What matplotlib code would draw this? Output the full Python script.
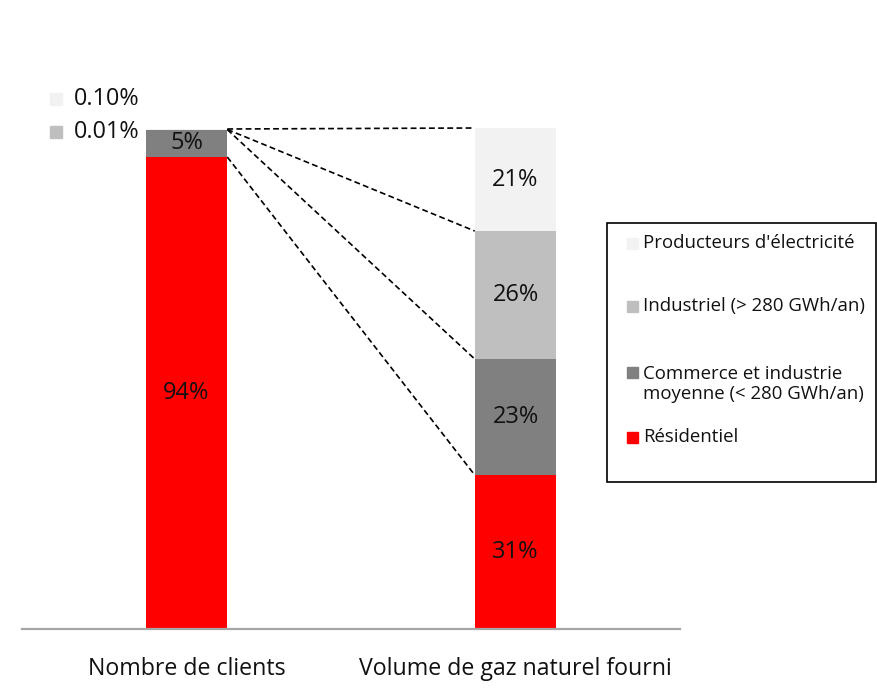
import matplotlib
matplotlib.use("Agg")
import matplotlib.pyplot as plt
from matplotlib.patches import Rectangle

plt.rcParams['font.family'] = ['Open Sans', 'DejaVu Sans']

categories = ["Nombre de clients", "Volume de gaz naturel fourni"]
series = ["Résidentiel", "Commerce et industrie\nmoyenne (< 280 GWh/an)",
          "Industriel (> 280 GWh/an)", "Producteurs d'électricité"]
colors = ["#FF0000", "#808080", "#BFBFBF", "#F2F2F2"]
clients = [94.4, 5.49, 0.01, 0.10]
volume = [30.8, 23.2, 25.6, 20.6]

W, H = 877, 692
fig = plt.figure(figsize=(W / 100, H / 100), dpi=100)

def fx(px):
    return px / W

def fy(py):
    return 1 - py / H

ax = fig.add_axes([fx(22), fy(629), fx(680) - fx(22), fy(29) - fy(629)])
ax.set_xlim(-0.5, 1.5)
ax.set_ylim(0, 120)
bw = 0.248

data = [clients, volume]
for ci, vals in enumerate(data):
    bottom = 0
    for si, v in enumerate(vals):
        ax.bar(ci, v, bw, bottom=bottom, color=colors[si], linewidth=0)
        if v >= 2:
            ax.text(ci, bottom + v / 2, f"{v:.0f}%", ha="center", va="center",
                    fontsize=17, color="#111111")
        bottom += v

# connector dashed lines between segment tops
cl_tops = [sum(clients[:i + 1]) for i in range(len(clients))]
vo_tops = [sum(volume[:i + 1]) for i in range(len(volume))]
for a, b in zip(cl_tops, vo_tops):
    ax.plot([0 + bw / 2, 1 - bw / 2], [a, b], color="black", lw=1.2,
            ls=(0, (3.5, 2)), zorder=3)

for s in ["top", "left", "right"]:
    ax.spines[s].set_visible(False)
ax.spines["bottom"].set_color("#A6A6A6")
ax.spines["bottom"].set_linewidth(1.6)
ax.set_yticks([])
ax.set_xticks(range(len(categories)))
ax.set_xticklabels(categories, fontsize=16.7, color="#111111")
ax.tick_params(axis="x", length=0, pad=20)

# small-value annotations for the left bar
small = [(3, 99), (2, 132)]
for si, ypx in small:
    fig.patches.append(Rectangle((fx(50), fy(ypx + 6)), fx(12), fy(0) - fy(12),
                                 transform=fig.transFigure, color=colors[si]))
    fig.text(fx(74), fy(ypx), f"{clients[si]:.2f}%", ha="left", va="center",
             fontsize=16.8, color="#111111")

# legend box
fig.patches.append(Rectangle((fx(607), fy(482)), fx(876) - fx(607), fy(223) - fy(482),
                             transform=fig.transFigure, fill=False,
                             edgecolor="black", lw=1.2))
leg = [(3, 243), (2, 306), (1, 384), (0, 437)]
for si, ypx in leg:
    sq_y = ypx if si != 1 else 372
    fig.patches.append(Rectangle((fx(627), fy(sq_y + 5.5)), fx(11), fy(0) - fy(11),
                                 transform=fig.transFigure, color=colors[si]))
    fig.text(fx(643), fy(ypx), series[si], ha="left", va="center",
             fontsize=13.4, color="#111111", linespacing=1.15)

fig.savefig("out.png", dpi=100)
